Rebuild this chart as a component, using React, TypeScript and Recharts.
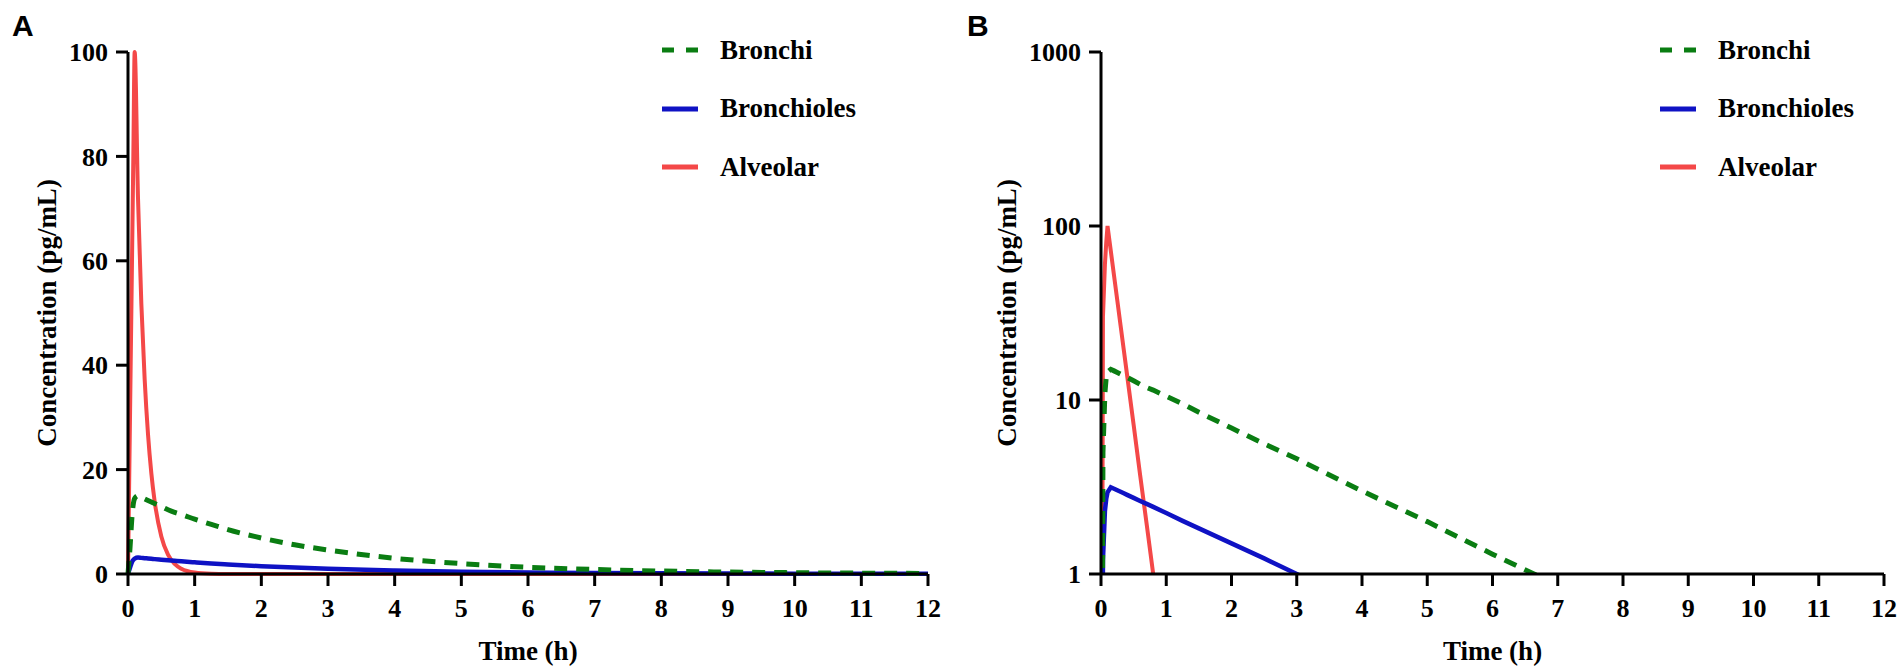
import React from 'react';
import { LineChart, Line, XAxis, YAxis, Legend, Label } from 'recharts';

// ---- data ----
const TIME = [0, 0.03, 0.06, 0.08, 0.1, 0.15, 0.2, 0.25, 0.3, 0.35, 0.4, 0.5, 0.6, 0.7, 0.8, 1, 1.25, 1.5, 2, 2.5, 3, 4, 5, 6, 7, 8, 9, 10, 11, 12];
const BRONCHI = [0, 5, 11, 13.5, 14.5, 15, 14.7, 14.4, 14.1, 13.8, 13.5, 12.9, 12.3, 11.8, 11.4, 10.5, 9.5, 8.5, 6.9, 5.6, 4.6, 3.0, 2.0, 1.3, 0.86, 0.57, 0.37, 0.25, 0.16, 0.11];
const BRONCHIOLES = [0, 1.2, 2.3, 2.7, 2.95, 3.15, 3.09, 3.03, 2.97, 2.91, 2.85, 2.74, 2.63, 2.53, 2.43, 2.24, 2.02, 1.83, 1.5, 1.23, 1.0, 0.67, 0.45, 0.3, 0.2, 0.13, 0.09, 0.06, 0.04, 0.027];
const ALVEOLAR = [0, 30, 60, 80, 100, 72, 51.8, 37.3, 26.8, 19.3, 13.9, 7.2, 3.7, 1.93, 1.0, 0.27, 0.051, 0.0099, 0.00037, 0, 0, 0, 0, 0, 0, 0, 0, 0, 0, 0];

const X_TICKS = [0, 1, 2, 3, 4, 5, 6, 7, 8, 9, 10, 11, 12];
const Y_TICKS_LIN = [0, 20, 40, 60, 80, 100];
const Y_TICKS_LOG = [1, 10, 100, 1000];

const SERIES_KEYS = ['alveolar', 'bronchioles', 'bronchi'];
const SERIES_NAMES: Record<string, string> = { bronchi: 'Bronchi', bronchioles: 'Bronchioles', alveolar: 'Alveolar' };
const LEGEND_ORDER = ['bronchi', 'bronchioles', 'alveolar'];

// ---- styles ----
const STYLE: Record<string, { color: string; width: number; dash?: string; legendDash?: string }> = {
  bronchi: { color: '#0a7d12', width: 5, dash: '13 9', legendDash: '12 12' },
  bronchioles: { color: '#0f12c4', width: 4.5 },
  alveolar: { color: '#f44848', width: 4 },
};

const LOG_FLOOR = 0.001;

const DATA_A = TIME.map((t, i) => ({ t, bronchi: BRONCHI[i], bronchioles: BRONCHIOLES[i], alveolar: ALVEOLAR[i] }));
const DATA_B = TIME.map((t, i) => ({
  t,
  bronchi: BRONCHI[i] > 0 ? BRONCHI[i] : LOG_FLOOR,
  bronchioles: BRONCHIOLES[i] > 0 ? BRONCHIOLES[i] : LOG_FLOOR,
  alveolar: ALVEOLAR[i] > 0 ? ALVEOLAR[i] : LOG_FLOOR,
}));

const SERIF = '"Liberation Serif", "Times New Roman", serif';
const tickStyle = { fontFamily: SERIF, fontWeight: 700, fontSize: 26, fill: '#000' };
const axisLine = { stroke: '#000', strokeWidth: 3 };
const tickLine = { stroke: '#000', strokeWidth: 3 };

const renderLegend = () => (
  <div style={{ display: 'flex', flexDirection: 'column' }}>
    {LEGEND_ORDER.map((k) => (
      <div key={k} style={{ height: 58.5, display: 'flex', alignItems: 'center' }}>
        <svg width={36} height={10} style={{ display: 'block' }}>
          <line x1={0} y1={5} x2={36} y2={5} stroke={STYLE[k].color} strokeWidth={5} strokeDasharray={STYLE[k].legendDash} />
        </svg>
        <span style={{ marginLeft: 22, fontFamily: SERIF, fontWeight: 700, fontSize: 27, color: '#000', lineHeight: 1 }}>{SERIES_NAMES[k]}</span>
      </div>
    ))}
  </div>
);

const yTitle = (
  <Label
    value="Concentration (pg/mL)"
    angle={-90}
    position="insideLeft"
    offset={46}
    style={{ textAnchor: 'middle', fontFamily: SERIF, fontWeight: 700, fontSize: 27, fill: '#000' }}
  />
);
const xTitle = (
  <Label
    value="Time (h)"
    position="insideBottom"
    offset={11}
    style={{ fontFamily: SERIF, fontWeight: 700, fontSize: 27, fill: '#000' }}
  />
);

const panelLabel: React.CSSProperties = {
  position: 'absolute',
  fontFamily: '"Liberation Sans", Arial, sans-serif',
  fontWeight: 700,
  fontSize: 30,
  lineHeight: '30px',
  color: '#000',
};

export default function App() {
  return (
    <div style={{ position: 'absolute', left: 0, top: 0, width: 1904, height: 671, background: '#fff', overflow: 'hidden' }}>
      <div style={{ position: 'absolute', left: 0, top: 0 }}>
        <LineChart width={960} height={671} data={DATA_A} margin={{ top: 52, right: 32, left: 0, bottom: 0 }}>
          <XAxis dataKey="t" type="number" domain={[0, 12]} ticks={X_TICKS} interval={0} height={97}
            axisLine={axisLine} tickLine={tickLine} tickSize={12} tickMargin={13} tick={tickStyle}>
            {xTitle}
          </XAxis>
          <YAxis type="number" domain={[0, 100]} ticks={Y_TICKS_LIN} interval={0} width={128}
            axisLine={axisLine} tickLine={tickLine} tickSize={12} tickMargin={8} tick={tickStyle}>
            {yTitle}
          </YAxis>
          {SERIES_KEYS.map((k) => (
            <Line key={k} type="monotone" dataKey={k} name={SERIES_NAMES[k]} stroke={STYLE[k].color} strokeWidth={STYLE[k].width}
              strokeDasharray={STYLE[k].dash} dot={false} activeDot={false} isAnimationActive={false} />
          ))}
          <Legend layout="vertical" align="center" verticalAlign="middle" content={renderLegend}
            wrapperStyle={{ left: 662, top: 21, width: 260, height: 180 }} />
        </LineChart>
      </div>
      <div style={{ position: 'absolute', left: 960, top: 0 }}>
        <LineChart width={944} height={671} data={DATA_B} margin={{ top: 52, right: 20, left: 0, bottom: 0 }}>
          <XAxis dataKey="t" type="number" domain={[0, 12]} ticks={X_TICKS} interval={0} height={97}
            axisLine={axisLine} tickLine={tickLine} tickSize={12} tickMargin={13} tick={tickStyle}>
            {xTitle}
          </XAxis>
          <YAxis type="number" scale="log" domain={[1, 1000]} ticks={Y_TICKS_LOG} interval={0} width={141} allowDataOverflow
            axisLine={axisLine} tickLine={tickLine} tickSize={12} tickMargin={8} tick={tickStyle}>
            {yTitle}
          </YAxis>
          {SERIES_KEYS.map((k) => (
            <Line key={k} type="linear" dataKey={k} name={SERIES_NAMES[k]} stroke={STYLE[k].color} strokeWidth={STYLE[k].width}
              strokeDasharray={STYLE[k].dash} dot={false} activeDot={false} isAnimationActive={false} />
          ))}
          <Legend layout="vertical" align="center" verticalAlign="middle" content={renderLegend}
            wrapperStyle={{ left: 700, top: 21, width: 260, height: 180 }} />
        </LineChart>
      </div>
      <div style={{ ...panelLabel, left: 12, top: 11 }}>A</div>
      <div style={{ ...panelLabel, left: 967, top: 11 }}>B</div>
    </div>
  );
}
